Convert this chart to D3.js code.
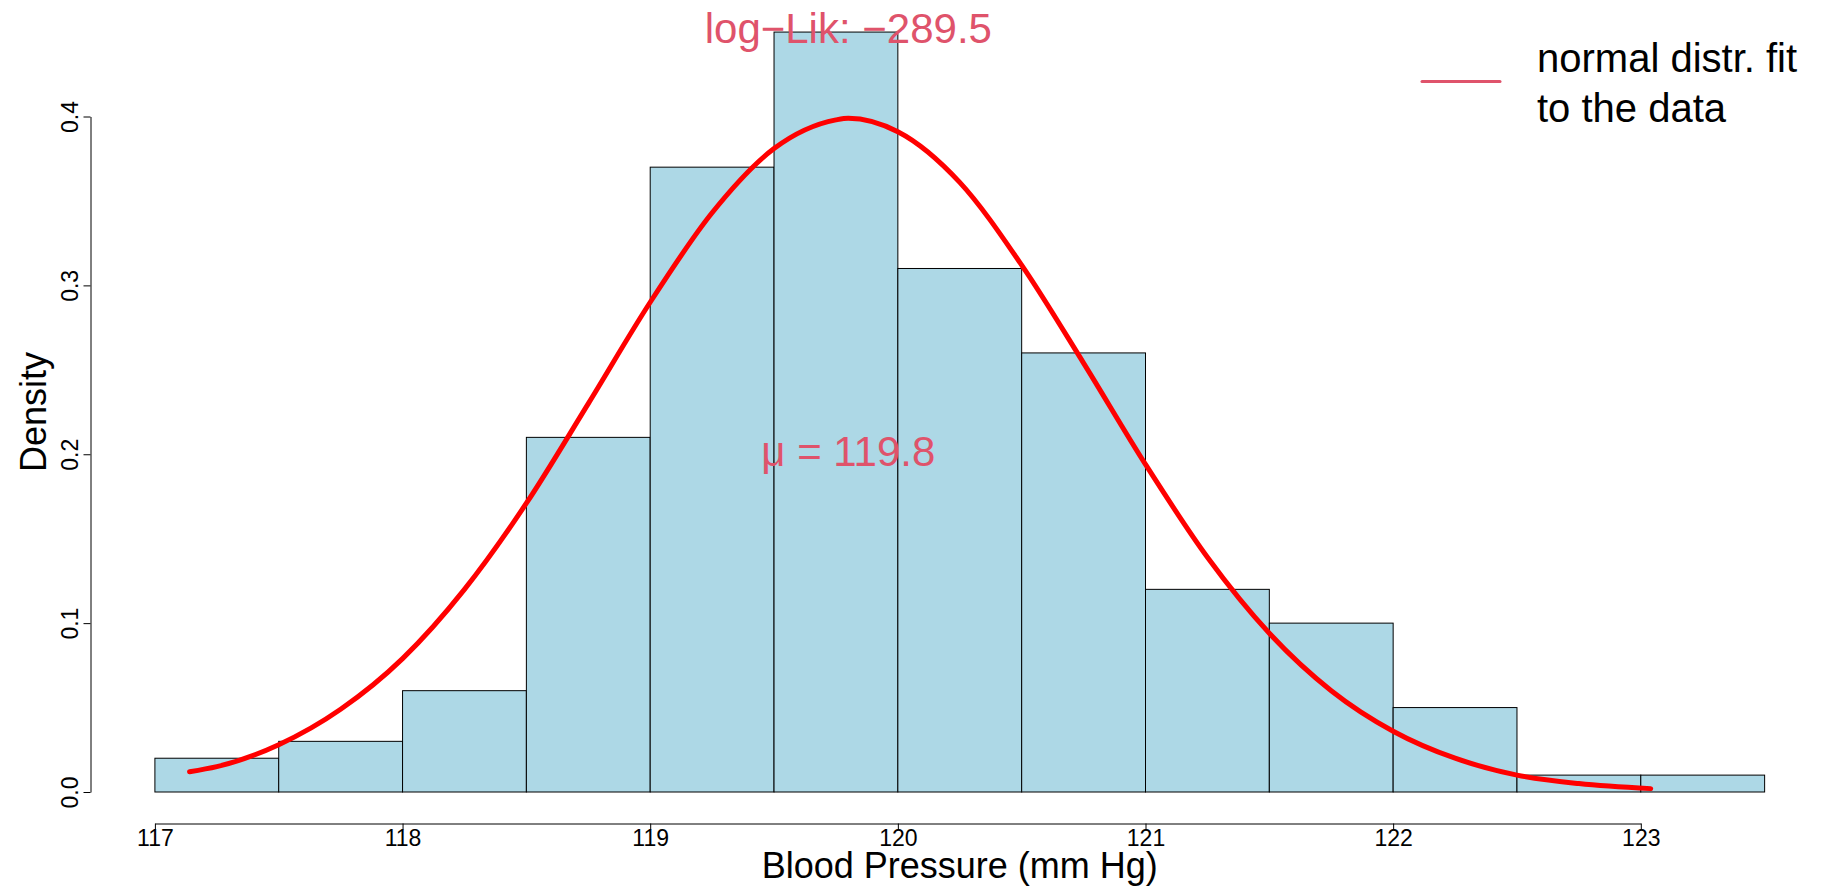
<!DOCTYPE html>
<html>
<head>
<meta charset="utf-8">
<script src="https://cdn.jsdelivr.net/npm/d3@7"></script>
<style>
  body { margin: 0; background: #fff; }
  svg { display: block; font-family: "Liberation Sans", Arial, Helvetica, sans-serif; }
  .axis path, .axis line { stroke: #000; stroke-width: 1; }
  .axis text { font-size: 23px; fill: #000; }
</style>
</head>
<body>
<script>
//histogram bins (left edges) and densities
var binStarts = [117, 117.5, 118, 118.5, 119, 119.5, 120, 120.5, 121, 121.5, 122, 122.5, 123];
var densities = [0.02, 0.03, 0.06, 0.21, 0.37, 0.45, 0.31, 0.26, 0.12, 0.10, 0.05, 0.01, 0.01];
var binWidth = 0.5;

//fitted normal curve
var curveX = [117.14, 117.25, 117.5, 117.75, 118, 118.25, 118.5, 118.75, 119, 119.25, 119.5, 119.75, 119.8,
              120, 120.25, 120.5, 120.75, 121, 121.25, 121.5, 121.75, 122, 122.25, 122.5, 122.75, 123.04];
var curveY = [0.012, 0.015, 0.028, 0.049, 0.079, 0.120, 0.171, 0.230, 0.290, 0.343, 0.381, 0.398, 0.399,
              0.391, 0.361, 0.312, 0.254, 0.194, 0.139, 0.094, 0.060, 0.036, 0.020, 0.010, 0.005, 0.002];

//axis ticks
var xTicks = [117, 118, 119, 120, 121, 122, 123];
var yTicks = [0.0, 0.1, 0.2, 0.3, 0.4];

//annotations
var meanValue = 119.8;
var muLabel = "\u03bc = 119.8";
var logLikLabel = "log\u2212Lik: \u2212289.5";
var legendLines = ["normal distr. fit", "to the data"];
var xTitle = "Blood Pressure (mm Hg)";
var yTitle = "Density";

var width = 1826,
    height = 887;

var annoColor = "#DF536B";

var svg = d3.select("body")
    .append("svg")
    .attr("width", width)
    .attr("height", height);

//scales
var x = d3.scaleLinear()
    .domain([117, 123])
    .range([154.9, 1640.8]);

var y = d3.scaleLinear()
    .domain([0, 0.4])
    .range([792, 116.5]);

//bars
svg.selectAll(".bar")
    .data(densities)
    .enter()
    .append("rect")
    .attr("class", "bar")
    .attr("x", function(d, i){ return x(binStarts[i]); })
    .attr("width", function(d, i){ return x(binStarts[i] + binWidth) - x(binStarts[i]); })
    .attr("y", function(d){ return y(d); })
    .attr("height", function(d){ return y(0) - y(d); })
    .attr("fill", "#ADD8E6")
    .attr("stroke", "#000")
    .attr("stroke-width", 1);

//normal curve
var line = d3.line()
    .x(function(d){ return x(d); })
    .y(function(d, i){ return y(curveY[i]); })
    .curve(d3.curveMonotoneX);

svg.append("path")
    .datum(curveX)
    .attr("d", line)
    .attr("fill", "none")
    .attr("stroke", "#FF0000")
    .attr("stroke-width", 5)
    .attr("stroke-linecap", "round")
    .attr("stroke-linejoin", "round");

//y axis
var yAxis = svg.append("g")
    .attr("class", "axis")
    .attr("transform", "translate(90.5,0)")
    .call(d3.axisLeft(y).tickValues(yTicks).tickFormat(d3.format(".1f")).tickSize(7).tickSizeOuter(0));

yAxis.selectAll("text")
    .attr("x", 0)
    .attr("y", 0)
    .attr("dy", 0)
    .attr("text-anchor", "middle")
    .attr("transform", "translate(-12.5,0) rotate(-90)");

//x axis
var xAxis = svg.append("g")
    .attr("class", "axis")
    .attr("transform", "translate(0,823.5)")
    .call(d3.axisBottom(x).tickValues(xTicks).tickFormat(d3.format("d")).tickSize(6).tickSizeOuter(0));

xAxis.selectAll("text")
    .attr("y", 22.5)
    .attr("dy", 0);

//axis titles
svg.append("text")
    .attr("x", x(120.25))
    .attr("y", 878)
    .attr("text-anchor", "middle")
    .style("font-size", "36px")
    .text(xTitle);

svg.append("text")
    .attr("text-anchor", "middle")
    .attr("transform", "translate(46," + y(0.225) + ") rotate(-90)")
    .style("font-size", "36px")
    .text(yTitle);

//mean and log-likelihood annotations
svg.append("text")
    .attr("x", x(meanValue))
    .attr("y", y(0.2))
    .attr("dy", "0.27em")
    .attr("text-anchor", "middle")
    .attr("fill", annoColor)
    .style("font-size", "42px")
    .text(muLabel);

svg.append("text")
    .attr("x", x(meanValue))
    .attr("y", 43)
    .attr("text-anchor", "middle")
    .attr("fill", annoColor)
    .style("font-size", "42px")
    .text(logLikLabel);

//legend
var legend = svg.append("g")
    .attr("transform", "translate(1422,0)");

legend.append("line")
    .attr("x1", 0)
    .attr("x2", 78)
    .attr("y1", 81.5)
    .attr("y2", 81.5)
    .attr("stroke", annoColor)
    .attr("stroke-width", 3)
    .attr("stroke-linecap", "round");

legend.selectAll(".legendText")
    .data(legendLines)
    .enter()
    .append("text")
    .attr("class", "legendText")
    .attr("x", 115)
    .attr("y", function(d, i){ return 72 + i * 50; })
    .style("font-size", "40px")
    .attr("fill", "#000")
    .text(function(d){ return d; });
</script>
</body>
</html>
